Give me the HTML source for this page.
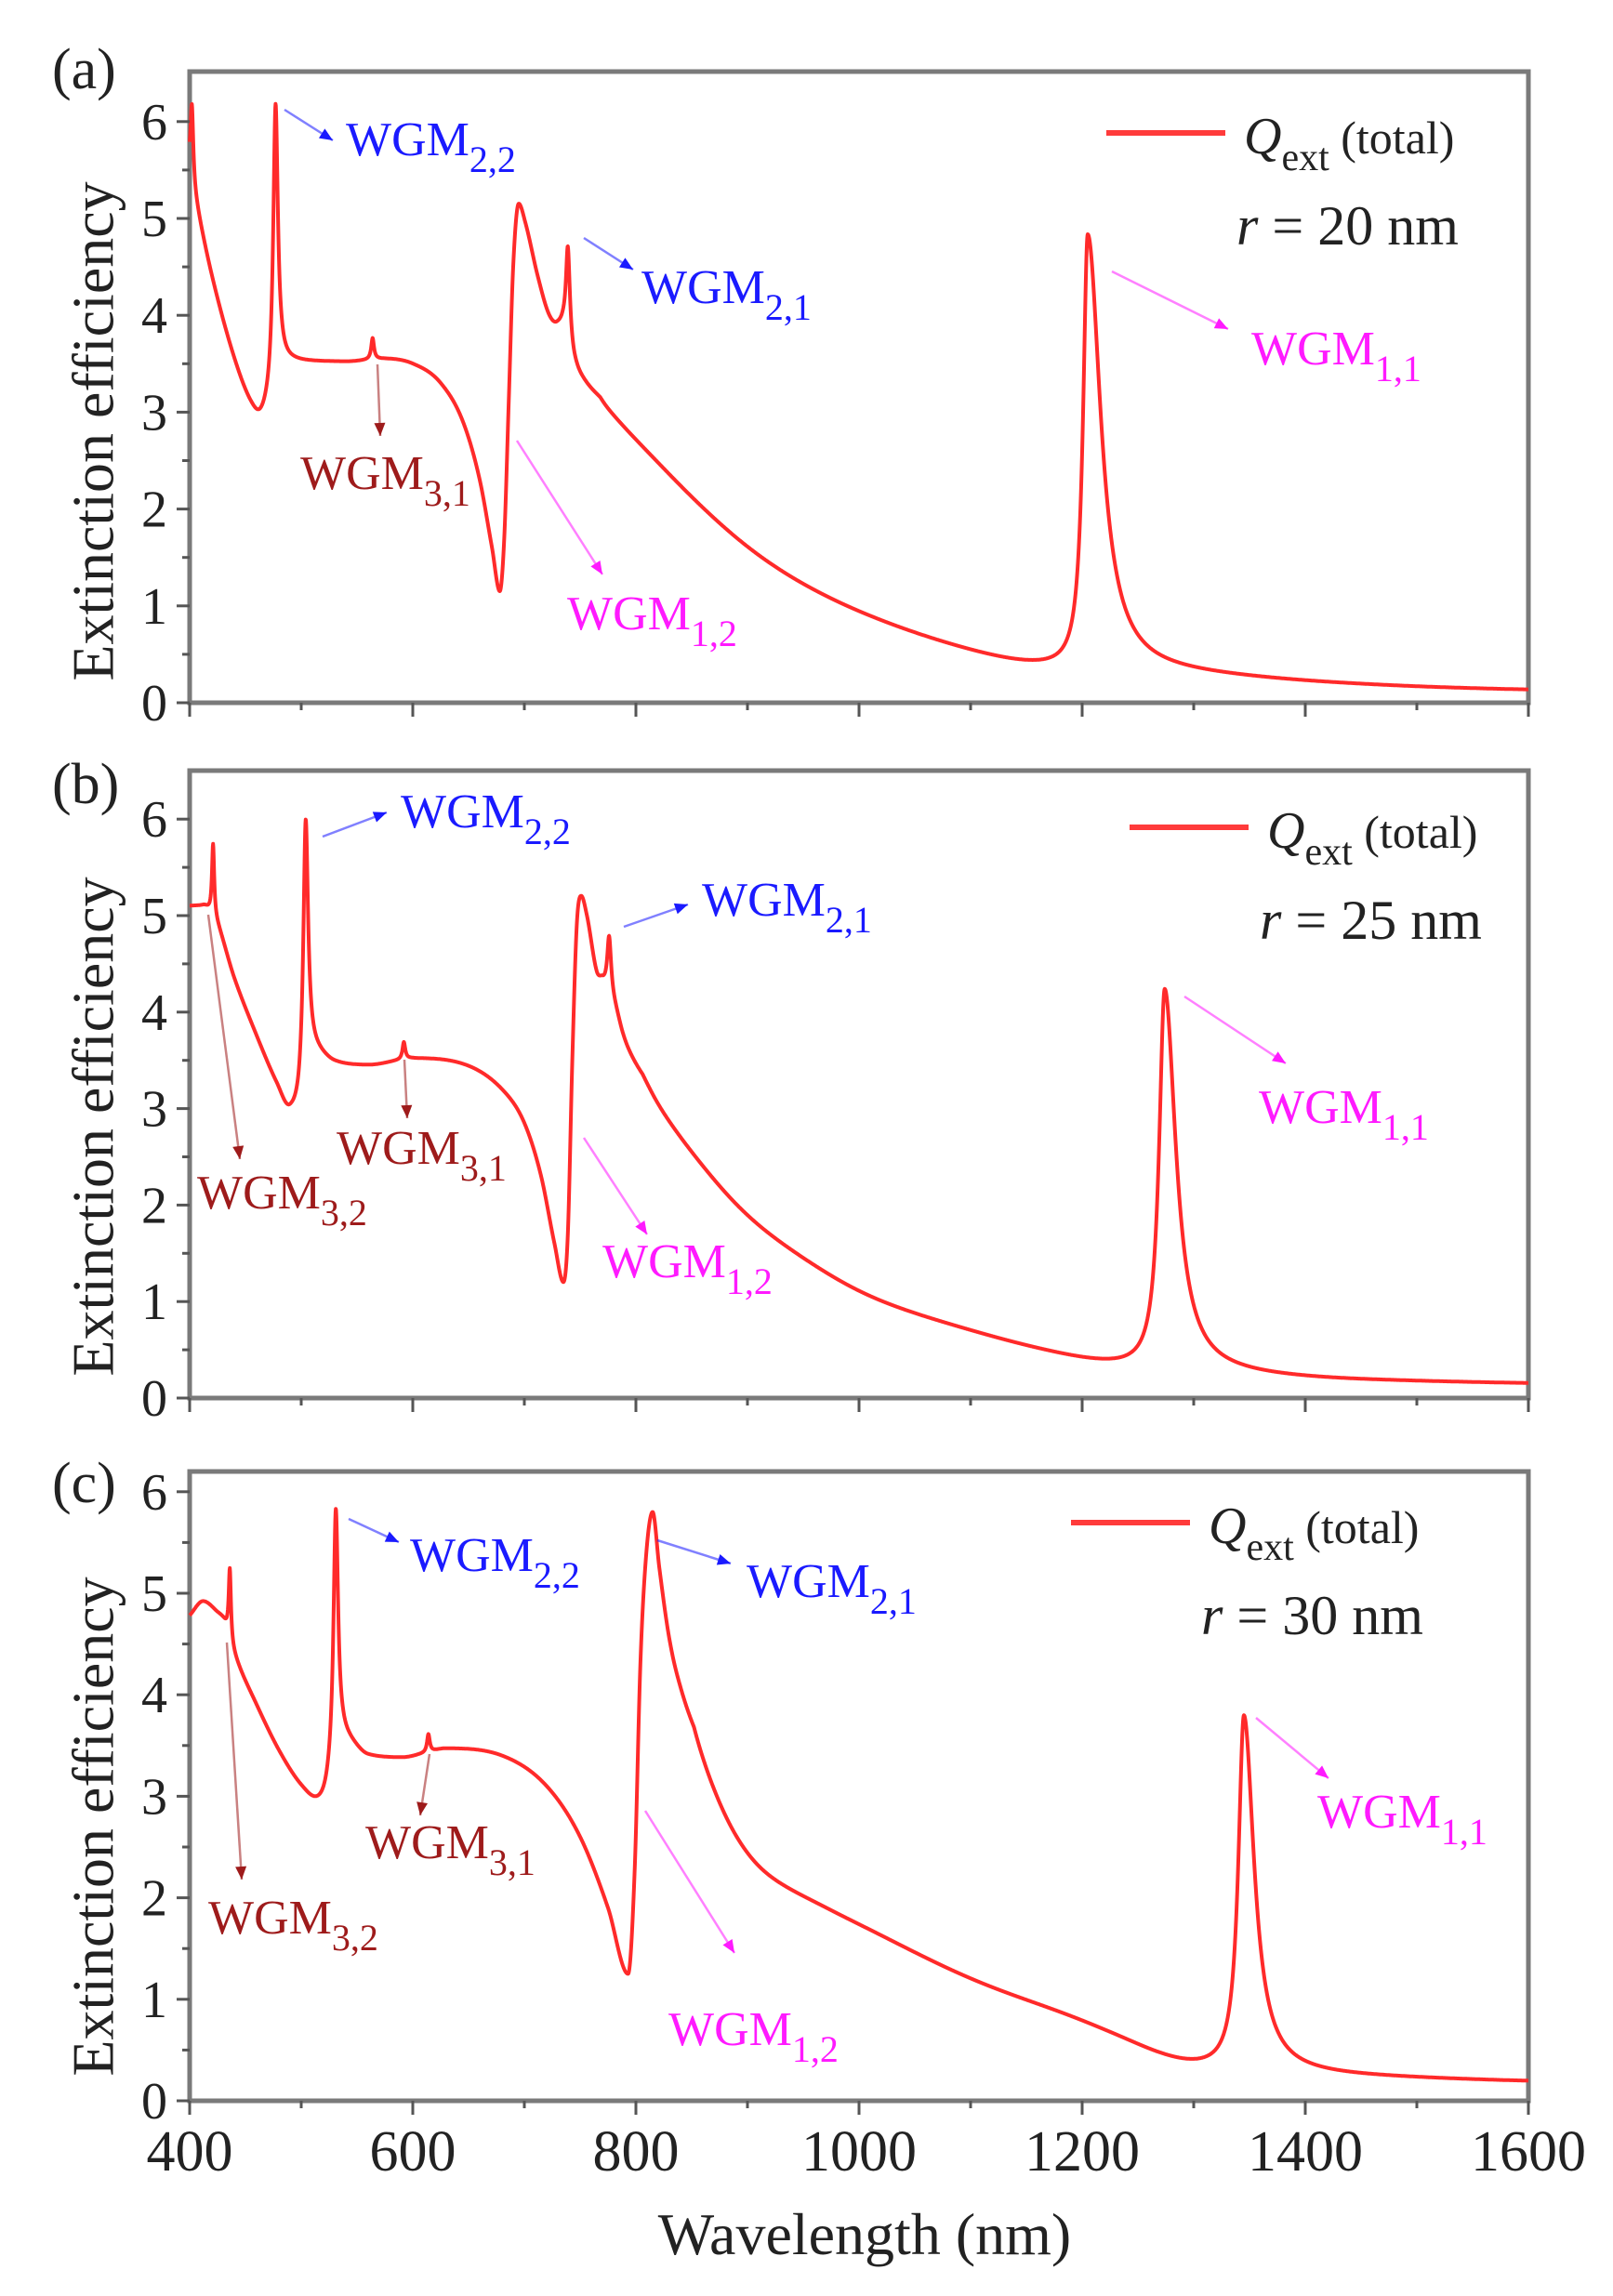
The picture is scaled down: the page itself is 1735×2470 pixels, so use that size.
<!DOCTYPE html>
<html><head><meta charset="utf-8"><style>
html,body{margin:0;padding:0;background:#fff;}
svg{display:block;}
text{font-family:"Liberation Serif",serif;}
</style></head><body>
<svg id="s" width="1735" height="2470" viewBox="0 0 1735 2470" xmlns="http://www.w3.org/2000/svg"></svg>
<script>
const S=document.getElementById('s');
const NS='http://www.w3.org/2000/svg';
function el(t,a,txt){const e=document.createElementNS(NS,t);for(const k in a)e.setAttribute(k,a[k]);if(txt!==undefined)e.textContent=txt;S.appendChild(e);return e;}
const X0=204,XS=1.2;
function X(l){return X0+(l-400)*XS;}
function mono(pts){
  const n=pts.length,xs=pts.map(p=>p[0]),ys=pts.map(p=>p[1]);
  const d=[],m=[];
  for(let i=0;i<n-1;i++)d.push((ys[i+1]-ys[i])/(xs[i+1]-xs[i]));
  m[0]=d[0];m[n-1]=d[n-2];
  for(let i=1;i<n-1;i++){ if(d[i-1]*d[i]<=0)m[i]=0; else m[i]=(d[i-1]+d[i])/2; }
  for(let i=0;i<n-1;i++){ if(d[i]==0){m[i]=0;m[i+1]=0;continue;} const a=m[i]/d[i],b=m[i+1]/d[i],h=a*a+b*b; if(h>9){const t=3/Math.sqrt(h);m[i]=t*a*d[i];m[i+1]=t*b*d[i];}}
  return function(x){
    let i=0; while(i<n-2&&x>xs[i+1])i++;
    const h=xs[i+1]-xs[i],t=(x-xs[i])/h;
    const h00=2*t*t*t-3*t*t+1,h10=t*t*t-2*t*t+t,h01=-2*t*t*t+3*t*t,h11=t*t*t-t*t;
    return h00*ys[i]+h10*h*m[i]+h01*ys[i+1]+h11*h*m[i+1];
  };
}
function panel(P){
  const {top,y0,u}=P;const Y=v=>y0-v*u;
  const L=204,R=1644;
  const bg0=mono(P.bg);
  const bg=l=>{ if(l<P.sm) return bg0(l); const w=Math.min(30,(l-P.sm)*1.5); if(w<0.5) return bg0(l); let s=0,c=0; for(let k=-w;k<=w+1e-9;k+=w/10){s+=bg0(Math.min(1600,l+k));c++;} return s/c; };
  let d='';
  for(let l=400;l<=1600;l+=0.25){
    let v=bg(l);
    for(const p of P.pk){const w=l<p[0]?p[2]:p[3];v+=p[1]/(1+((l-p[0])/w)**2);}
    d+=(d?'L':'M')+X(l).toFixed(1)+','+Y(v).toFixed(1);
  }
  el('rect',{x:L,y:top,width:R-L,height:y0-top,fill:'none',stroke:'#7a7a7a','stroke-width':5});
  el('path',{d:d,fill:'none',stroke:'#ff2a2a','stroke-width':4,'stroke-linejoin':'round'});
  for(let v=0;v<=6;v+=0.5){const y=Y(v);const maj=v%1==0;
    el('line',{x1:L-(maj?14:8),x2:L,y1:y,y2:y,stroke:'#555','stroke-width':3});
    if(maj)el('text',{x:180,y:y+19,'text-anchor':'end','font-size':56,fill:'#222'},String(v));}
  for(let l=400;l<=1600;l+=100){const x=X(l);const maj=l%200==0;
    el('line',{x1:x,x2:x,y1:y0,y2:y0+(maj?15:8),stroke:'#555','stroke-width':3});}
  el('text',{x:56,y:P.lab[1],'font-size':62,fill:'#222'},P.lab[0]);
  el('text',{x:100,y:P.yc,'font-size':64,fill:'#222','text-anchor':'middle','dominant-baseline':'central',transform:`rotate(-90 100 ${P.yc})`},'Extinction efficiency');
  el('line',{x1:P.lg[0],x2:P.lg[0]+128,y1:P.lg[1],y2:P.lg[1],stroke:'#ff3b3b','stroke-width':6});
  const t=el('text',{x:P.lg[0]+148,y:P.lg[1]+22,'font-size':56,fill:'#222'});
  t.innerHTML='<tspan font-style="italic">Q</tspan><tspan font-size="42" dy="18">ext</tspan><tspan dy="-18" font-size="50"> (total)</tspan>';
  const r=el('text',{x:P.lg[0]+140,y:P.lg[1]+120,'font-size':60,fill:'#222'});
  r.innerHTML='<tspan font-style="italic">r</tspan> = '+P.r+' nm';
  for(const a of P.an){
    const col=a[0];
    const [x1,y1,x2,y2]=a[1];
    el('line',{x1,y1,x2,y2,stroke:col,'stroke-width':2.5,opacity:0.55});
    const ang=Math.atan2(y2-y1,x2-x1),hl=14,hw=6;
    const bx=x2-hl*Math.cos(ang),by=y2-hl*Math.sin(ang);
    el('polygon',{points:`${x2},${y2} ${bx-hw*Math.sin(ang)},${by+hw*Math.cos(ang)} ${bx+hw*Math.sin(ang)},${by-hw*Math.cos(ang)}`,fill:col});
    const tt=el('text',{x:a[2],y:a[3],'font-size':52,fill:col});
    tt.innerHTML='WGM<tspan font-size="40" dy="18">'+a[4]+'</tspan>';
  }
}
const BL='#1a1aff',DR='#9e1b1b',MG='#ff1aff';
panel({top:77,y0:756,u:104.2,lab:['(a)',95],yc:464,lg:[1190,143],r:20,sm:748,
 bg:[[400,5.5],[405,5.2],[420,4.4],[440,3.55],[455,3.08],[463,2.95],[470,3.05],[483,3.5],[500,3.52],[540,3.52],[575,3.55],[600,3.5],[625,3.3],[645,2.9],[660,2.3],[671,1.6],[678,1.15],[682,1.7],[686,3.1],[690,4.5],[695,5.15],[701,4.95],[712,4.4],[722,4.0],[729,3.9],[734,3.9],[745,3.5],[760,3.22],[800,2.72],[850,2.12],[900,1.6],[950,1.22],[1000,0.94],[1050,0.72],[1100,0.54],[1150,0.4],[1200,0.34],[1300,0.28],[1400,0.21],[1500,0.16],[1600,0.13]],
 pk:[[402,0.8,1.5,1.5],[477,2.85,2.5,2.5],[564,0.22,1.5,1.5],[739,0.95,2,2.2],[1205,4.5,5,14]],
 an:[[BL,[306,118,358,151],372,167,'2,2'],[BL,[628,256,681,290],690,326,'2,1'],[MG,[1196,292,1321,354],1346,392,'1,1'],[DR,[406,392,409,469],323,526,'3,1'],[MG,[556,474,648,618],610,677,'1,2']]});
panel({top:829,y0:1504,u:103.8,lab:['(b)',864],yc:1212,lg:[1215,890],r:25,sm:786,
 bg:[[400,5.1],[412,5.1],[418,5.04],[425,4.9],[440,4.35],[460,3.75],[478,3.25],[490,2.97],[497,3.02],[508,3.6],[530,3.48],[560,3.45],[588,3.5],[600,3.52],[640,3.48],[680,3.2],[700,2.85],[715,2.3],[727,1.6],[735,1.2],[739,1.7],[743,3.5],[747,4.9],[751,5.2],[756,5.0],[765,4.4],[770,4.32],[781,4.05],[790,3.7],[800,3.4],[850,2.55],[894,1.94],[950,1.45],[1000,1.1],[1100,0.7],[1200,0.4],[1228,0.34],[1300,0.27],[1400,0.2],[1500,0.17],[1600,0.15]],
 pk:[[421,0.75,1.2,1.2],[504,2.55,2.5,2.5],[592,0.18,1.5,1.5],[776,0.6,2,2.2],[1274,3.95,6,12]],
 an:[[BL,[347,900,416,874],431,890,'2,2'],[BL,[671,997,740,973],755,985,'2,1'],[MG,[1274,1072,1383,1144],1354,1208,'1,1'],[DR,[224,984,258,1247],212,1300,'3,2'],[DR,[435,1140,438,1203],362,1252,'3,1'],[MG,[628,1224,696,1328],648,1374,'1,2']]});
panel({top:1583,y0:2260,u:109.2,lab:['(c)',1616],yc:1965,lg:[1152,1638],r:30,sm:832,
 bg:[[400,4.78],[412,4.92],[424,4.82],[431,4.72],[440,4.4],[460,3.9],[480,3.45],[500,3.1],[515,2.95],[521,3.0],[538,3.55],[560,3.4],[590,3.38],[610,3.42],[630,3.47],[680,3.4],[720,3.1],[750,2.6],[775,1.9],[793,1.25],[799,2.3],[804,4.3],[809,5.35],[815,5.8],[821,5.25],[830,4.55],[850,3.65],[870,3.0],[894,2.45],[950,2.02],[1000,1.74],[1100,1.2],[1200,0.79],[1250,0.55],[1290,0.36],[1345,0.3],[1400,0.26],[1500,0.22],[1600,0.19]],
 pk:[[436,0.7,1.2,1.2],[531,2.45,2.5,2.5],[614,0.18,1.5,1.5],[1345,3.5,6,11]],
 an:[[BL,[375,1634,429,1659],441,1690,'2,2'],[BL,[707,1657,786,1682],803,1718,'2,1'],[MG,[1351,1848,1429,1913],1417,1966,'1,1'],[DR,[244,1767,260,2022],224,2080,'3,2'],[DR,[462,1887,452,1953],393,1999,'3,1'],[MG,[694,1948,790,2101],719,2200,'1,2']]});
for(let l=400;l<=1600;l+=200)el('text',{x:X(l),y:2335,'text-anchor':'middle','font-size':62,fill:'#222'},String(l));
el('text',{x:930,y:2425,'text-anchor':'middle','font-size':64,fill:'#222'},'Wavelength (nm)');
</script>
</body></html>
